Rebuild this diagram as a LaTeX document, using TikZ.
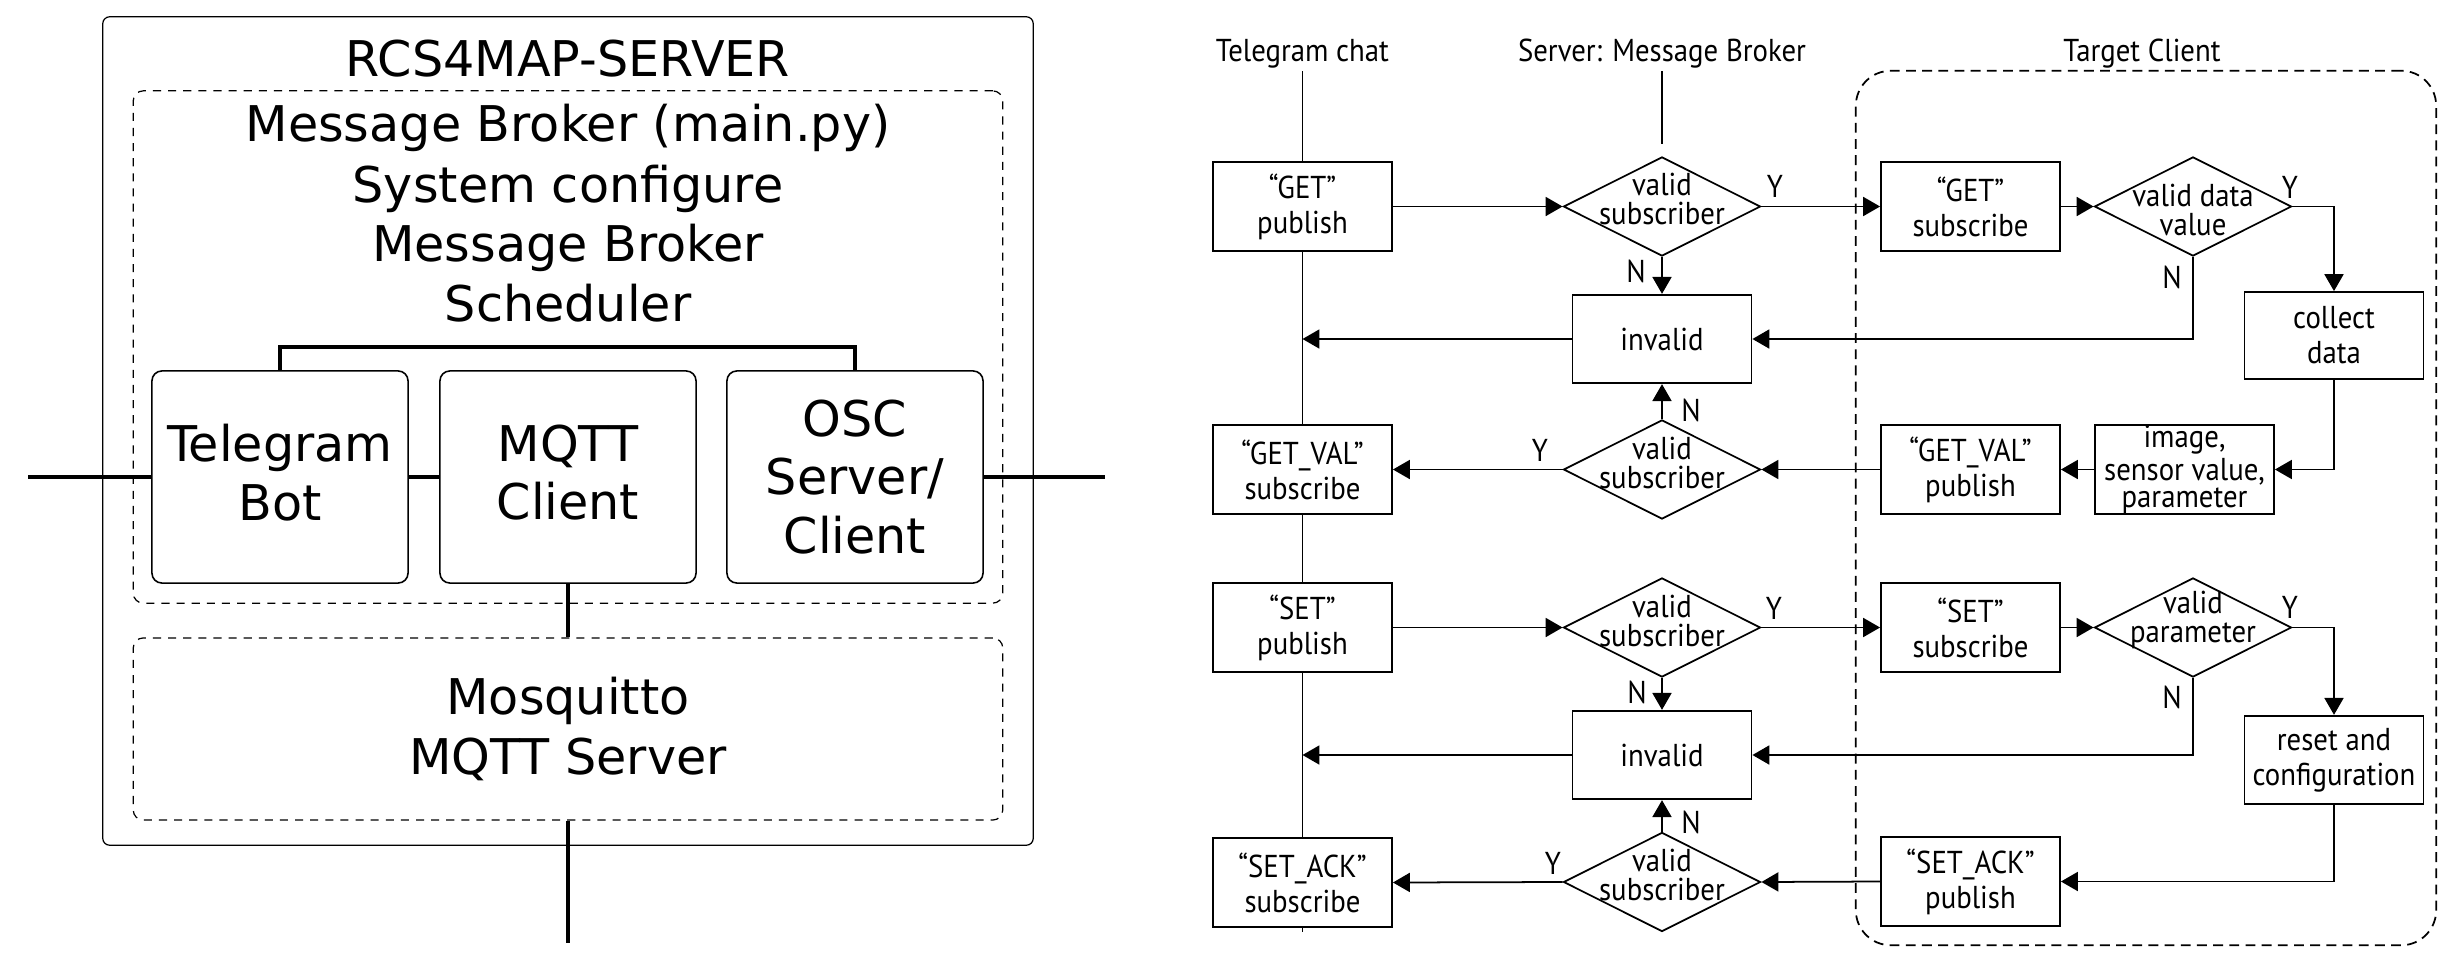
\documentclass[tikz,border=0pt]{standalone}
\usepackage{fontspec}
\newfontfamily\lfont{DejaVu Sans}
\newfontfamily\rfont[FakeStretch=0.91]{PT Sans}
\usetikzlibrary{shapes.geometric,arrows.meta}
\begin{document}
\begin{tikzpicture}[x=0.01cm,y=-0.01cm,
  lf/.style={font=\lfont\fontsize{14}{17}\selectfont},
  outerbox/.style={draw, line width=0.35pt, rounded corners=0.07cm, inner sep=0},
  dashbox/.style={draw, line width=0.35pt, dash pattern=on 2.3pt off 2pt, rounded corners=0.1cm, inner sep=0},
  modbox/.style={draw, line width=0.45pt, rounded corners=0.1cm, minimum width=2.56cm, minimum height=2.12cm, inner sep=0, align=center, font=\lfont\fontsize{14}{16.6}\selectfont},
  wire/.style={line width=1.1pt},
  rbox/.style={draw, line width=0.5pt, minimum width=1.79cm, minimum height=0.885cm, inner sep=0, align=center, font=\rfont\fontsize{9}{10}\selectfont},
  dbox/.style={draw, diamond, line width=0.5pt, minimum width=1.97cm, minimum height=0.99cm, inner sep=0},
  dtext/.style={inner sep=0, align=center, font=\rfont\fontsize{9}{8}\selectfont},
  flow/.style={line width=0.5pt},
  arr/.style={flow, -{Triangle[length=4.8pt,width=5.4pt]}},
  yn/.style={inner sep=0, font=\rfont\fontsize{9}{10}\selectfont},
  lanehead/.style={anchor=base, inner sep=0, font=\rfont\fontsize{9}{10}\selectfont},
]
\useasboundingbox (0,0) rectangle (2462,957);

% ---------------- left panel ----------------
\node[outerbox, minimum width=9.30cm, minimum height=8.28cm] (srv) at (568,431) {};
\node[anchor=base, inner sep=0, lf] (title) at (568,76) {RCS4MAP-SERVER};
\node[dashbox, minimum width=8.69cm, minimum height=5.12cm] (mb) at (568,347) {};
\node[anchor=base, inner sep=0, lf] (mb1) at (568,141) {Message Broker (main.py)};
\node[anchor=base, inner sep=0, lf] (mb2) at (568,202) {System configure};
\node[anchor=base, inner sep=0, lf] (mb3) at (568,261) {Message Broker};
\node[anchor=base, inner sep=0, lf] (mb4) at (568,321) {Scheduler};
\node[modbox] (tg) at (280,477) {Telegram\\Bot\rule[-2.6pt]{0pt}{0pt}};
\node[modbox] (mq) at (568,477) {MQTT\\Client\rule[-2.6pt]{0pt}{0pt}};
\node[modbox] (osc) at (855,477) {OSC\\Server/\\Client};
\node[dashbox, minimum width=8.69cm, minimum height=1.82cm, align=center, lf] (mos) at (568,729) {Mosquitto\\MQTT Server};
\coordinate (brk) at (568,347);
\draw[wire] (tg.north) |- (brk) -| (osc.north);
\coordinate (lin) at (28,477);
\coordinate (rin) at (1105,477);
\coordinate (bot) at (568,943);
\draw[wire] (lin) -- (tg.west);
\draw[wire] (tg.east) -- (mq.west);
\draw[wire] (osc.east) -- (rin);
\draw[wire] (mq.south) -- (mos.north);
\draw[wire] (mos.south) -- (bot);

% ---------------- right panel ----------------
\node[lanehead] (h1) at (1302.5,61) {Telegram chat};
\node[lanehead] (h2) at (1662,61) {Server: Message Broker};
\node[lanehead] (h3) at (2142,61) {Target Client};
\node[draw, flow, dash pattern=on 2.8pt off 1.8pt, rounded corners=0.35cm, minimum width=5.80cm, minimum height=8.74cm, inner sep=0] (tcbox) at (2146,508) {};

% GET flow
\node[rbox] (gp) at (1302.5,206.5) {“GET”\\publish};
\node[rbox] (gvs) at (1302.5,469.5) {“GET\_VAL”\\subscribe};
\node[dbox] (d1) at (1662,206.5) {};
\node[dtext] (d1t) at (1662,199) {valid\\subscriber};
\node[rbox] (inv1) at (1662,339) {invalid};
\node[dbox] (d2) at (1662,469.5) {};
\node[dtext] (d2t) at (1662,463) {valid\\subscriber};
\node[rbox] (gs) at (1970.5,206.5) {“GET”\\subscribe};
\node[dbox] (dv) at (2193,206.5) {};
\node[dtext] (dvt) at (2193,210) {valid data\\value};
\node[rbox, minimum height=0.87cm] (cd) at (2334,335.5) {collect\\data};
\node[rbox, font=\rfont\fontsize{9}{7.8}\selectfont] (img) at (2184.5,469.5) {image,\\sensor value,\\parameter};
\node[rbox] (gvp) at (1970.5,469.5) {“GET\_VAL”\\publish};

% SET flow
\node[rbox] (sp) at (1302.5,627.5) {“SET”\\publish};
\node[rbox] (sas) at (1302.5,882.5) {“SET\_ACK”\\subscribe};
\node[dbox] (d3) at (1662,627.5) {};
\node[dtext] (d3t) at (1662,621) {valid\\subscriber};
\node[rbox] (inv2) at (1662,755) {invalid};
\node[dbox] (d4) at (1662,882) {};
\node[dtext] (d4t) at (1662,875) {valid\\subscriber};
\node[rbox] (ss) at (1970.5,627.5) {“SET”\\subscribe};
\node[dbox] (dp) at (2193,627.5) {};
\node[dtext] (dpt) at (2193,620) {valid\\parameter};
\node[rbox] (rc) at (2334,760) {reset and\\configuration};
\node[rbox] (sap) at (1970.5,881.5) {“SET\_ACK”\\publish};

% lanes
\coordinate (t0) at (1302.5,71);
\coordinate (t9) at (1302.5,932);
\coordinate (s0) at (1662,71);
\coordinate (s1) at (1662,144);
\draw[flow] (t0) -- (gp.north);
\draw[flow] (gp.south) -- (gvs.north);
\draw[flow] (gvs.south) -- (sp.north);
\draw[flow] (sp.south) -- (sas.north);
\draw[flow] (sas.south) -- (t9);
\draw[flow] (s0) -- (s1);

% GET connectors
\coordinate (l1) at (1302.5,339);
\draw[arr] (gp.east) -- (d1.west);
\draw[arr] (d1.east) -- (gs.west);
\node[yn] (y1) at (1775,186) {Y};
\draw[arr] (d1.south) -- (inv1.north);
\node[yn] (n1) at (1636,271) {N};
\draw[arr] (inv1.west) -- (l1);
\draw[arr] (gs.east) -- (dv.west);
\draw[arr] (dv.east) -| (cd.north);
\node[yn] (y2) at (2290,187) {Y};
\draw[arr] (dv.south) |- (inv1.east);
\node[yn] (n2) at (2172,277) {N};
\draw[arr] (cd.south) |- (img.east);
\draw[arr] (img.west) -- (gvp.east);
\draw[arr] (gvp.west) -- (d2.east);
\draw[arr] (d2.north) -- (inv1.south);
\node[yn] (n3) at (1691,410) {N};
\draw[arr] (d2.west) -- (gvs.east);
\node[yn] (y3) at (1540,450) {Y};

% SET connectors
\coordinate (l2) at (1302.5,755);
\draw[arr] (sp.east) -- (d3.west);
\draw[arr] (d3.east) -- (ss.west);
\node[yn] (y4) at (1774,608) {Y};
\draw[arr] (d3.south) -- (inv2.north);
\node[yn] (n4) at (1637,692) {N};
\draw[arr] (inv2.west) -- (l2);
\draw[arr] (ss.east) -- (dp.west);
\draw[arr] (dp.east) -| (rc.north);
\node[yn] (y5) at (2290,607) {Y};
\draw[arr] (dp.south) |- (inv2.east);
\node[yn] (n5) at (2172,697) {N};
\draw[arr] (rc.south) |- (sap.east);
\draw[arr] (sap.west) -- (d4.east);
\draw[arr] (d4.north) -- (inv2.south);
\node[yn] (n6) at (1691,822) {N};
\draw[arr] (d4.west) -- (sas.east);
\node[yn] (y6) at (1553,863) {Y};
\end{tikzpicture}
\end{document}
